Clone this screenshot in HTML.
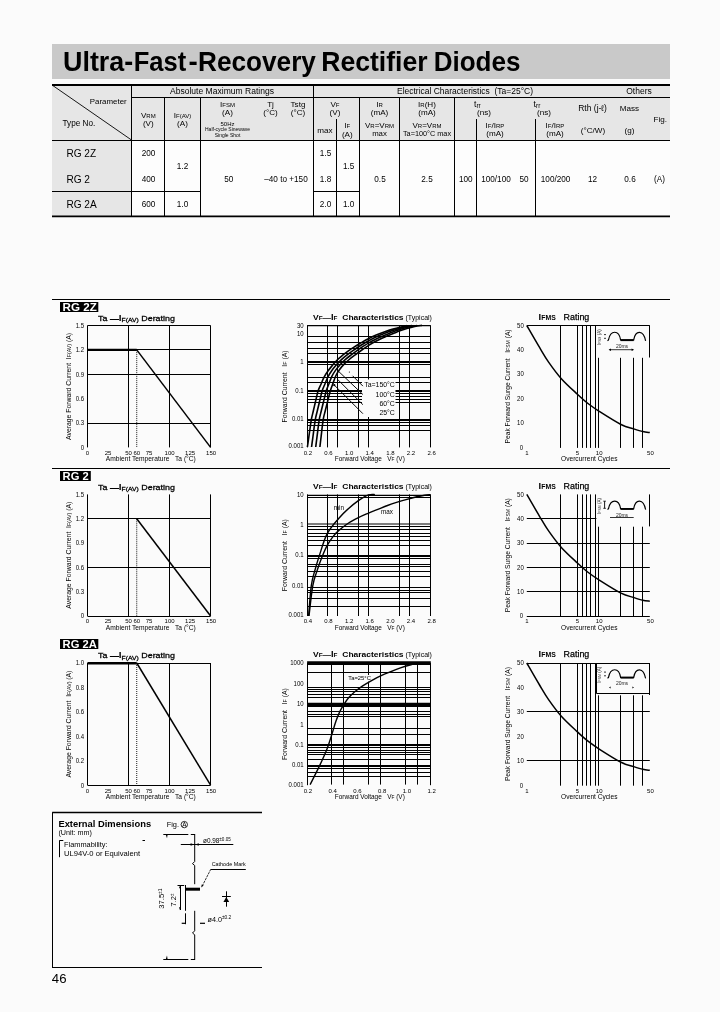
<!DOCTYPE html>
<html><head><meta charset="utf-8"><title>Ultra-Fast-Recovery Rectifier Diodes</title>
<style>html,body{margin:0;padding:0;background:#fbfbfb;}body{width:720px;height:1012px;overflow:hidden;font-family:"Liberation Sans",sans-serif;}svg{display:block;font-family:"Liberation Sans",sans-serif;}</style></head><body>
<svg style="will-change:transform;filter:grayscale(1)" width="720" height="1012" viewBox="0 0 720 1012">
<rect x="0" y="0" width="720" height="1012" fill="#fbfbfb" />
<rect x="52" y="44" width="618" height="35" fill="#c9c9c9" />
<text x="63" y="71" font-size="27.8" text-anchor="start" font-weight="bold" fill="#000" textLength="70.2" lengthAdjust="spacingAndGlyphs" >Ultra-</text>
<text x="133.7" y="71" font-size="27.8" text-anchor="start" font-weight="bold" fill="#000" textLength="52.5" lengthAdjust="spacingAndGlyphs" >Fast</text>
<text x="188.5" y="71" font-size="27.8" text-anchor="start" font-weight="bold" fill="#000" >-</text>
<text x="198.1" y="71" font-size="27.8" text-anchor="start" font-weight="bold" fill="#000" textLength="117.8" lengthAdjust="spacingAndGlyphs" >Recovery</text>
<text x="321.2" y="71" font-size="27.8" text-anchor="start" font-weight="bold" fill="#000" textLength="106.4" lengthAdjust="spacingAndGlyphs" >Rectifier</text>
<text x="433.7" y="71" font-size="27.8" text-anchor="start" font-weight="bold" fill="#000" textLength="86.8" lengthAdjust="spacingAndGlyphs" >Diodes</text>
<rect x="52" y="85" width="618" height="55" fill="#e6e6e6" />
<rect x="52" y="140" width="79.5" height="76" fill="#e6e6e6" />
<rect x="131.5" y="140" width="538.5" height="76" fill="#fdfdfd" />
<line x1="52" y1="85" x2="670" y2="85" stroke="#000" stroke-width="2" />
<line x1="52" y1="216.3" x2="670" y2="216.3" stroke="#000" stroke-width="1.8" />
<line x1="131.5" y1="97.5" x2="670" y2="97.5" stroke="#000" stroke-width="1" />
<line x1="52" y1="140.5" x2="670" y2="140.5" stroke="#000" stroke-width="1" />
<line x1="52" y1="191.5" x2="200.5" y2="191.5" stroke="#000" stroke-width="1" />
<line x1="313" y1="191.5" x2="359.5" y2="191.5" stroke="#000" stroke-width="1" />
<line x1="131.5" y1="85" x2="131.5" y2="216" stroke="#000" stroke-width="1" />
<line x1="164.5" y1="97" x2="164.5" y2="216" stroke="#000" stroke-width="1" />
<line x1="200.5" y1="97" x2="200.5" y2="216" stroke="#000" stroke-width="1" />
<line x1="313.5" y1="85" x2="313.5" y2="216" stroke="#000" stroke-width="1" />
<line x1="359.5" y1="97" x2="359.5" y2="216" stroke="#000" stroke-width="1" />
<line x1="399.5" y1="97" x2="399.5" y2="216" stroke="#000" stroke-width="1" />
<line x1="454.5" y1="97" x2="454.5" y2="216" stroke="#000" stroke-width="1" />
<line x1="336.5" y1="119" x2="336.5" y2="216" stroke="#000" stroke-width="1" />
<line x1="476.5" y1="119" x2="476.5" y2="216" stroke="#000" stroke-width="1" />
<line x1="535.5" y1="119" x2="535.5" y2="216" stroke="#000" stroke-width="1" />
<line x1="52" y1="85" x2="131.5" y2="140" stroke="#000" stroke-width="0.9" />
<text x="222" y="93.6" font-size="8.3" text-anchor="middle" font-weight="normal" fill="#000" textLength="104" lengthAdjust="spacingAndGlyphs" >Absolute Maximum Ratings</text>
<text x="465" y="93.6" font-size="8.3" text-anchor="middle" font-weight="normal" fill="#000" textLength="136" lengthAdjust="spacingAndGlyphs" >Electrical Characteristics&#160;&#160;(Ta=25°C)</text>
<text x="639" y="94" font-size="8.5" text-anchor="middle" font-weight="normal" fill="#000" >Others</text>
<text x="126.7" y="103.8" font-size="7.9" text-anchor="end" font-weight="normal" fill="#000" >Parameter</text>
<text x="62.5" y="126.3" font-size="8.2" text-anchor="start" font-weight="normal" fill="#000" >Type No.</text>
<text x="148.3" y="117.5" font-size="8.1" text-anchor="middle" font-weight="normal" fill="#000" >V<tspan font-size="6">RM</tspan></text>
<text x="148.3" y="126.3" font-size="8.1" text-anchor="middle" font-weight="normal" fill="#000" >(V)</text>
<text x="182.5" y="117.5" font-size="8.1" text-anchor="middle" font-weight="normal" fill="#000" >I<tspan font-size="6">F(AV)</tspan></text>
<text x="182.5" y="126.3" font-size="8.1" text-anchor="middle" font-weight="normal" fill="#000" >(A)</text>
<text x="227.5" y="106.8" font-size="8.1" text-anchor="middle" font-weight="normal" fill="#000" >I<tspan font-size="6">FSM</tspan></text>
<text x="227.5" y="114.8" font-size="8.1" text-anchor="middle" font-weight="normal" fill="#000" >(A)</text>
<text x="227.5" y="125.8" font-size="6" text-anchor="middle" font-weight="normal" fill="#000" >50Hz</text>
<text x="227.5" y="131.3" font-size="5" text-anchor="middle" font-weight="normal" fill="#000" >Half-cycle Sinewave</text>
<text x="227.5" y="137" font-size="5" text-anchor="middle" font-weight="normal" fill="#000" >Single Shot</text>
<text x="270.5" y="106.8" font-size="8.1" text-anchor="middle" font-weight="normal" fill="#000" >Tj</text>
<text x="270.5" y="114.8" font-size="8.1" text-anchor="middle" font-weight="normal" fill="#000" >(°C)</text>
<text x="298" y="106.8" font-size="8.1" text-anchor="middle" font-weight="normal" fill="#000" >Tstg</text>
<text x="298" y="114.8" font-size="8.1" text-anchor="middle" font-weight="normal" fill="#000" >(°C)</text>
<text x="335" y="106.8" font-size="8.1" text-anchor="middle" font-weight="normal" fill="#000" >V<tspan font-size="6">F</tspan></text>
<text x="335" y="115" font-size="8.1" text-anchor="middle" font-weight="normal" fill="#000" >(V)</text>
<text x="325" y="132.5" font-size="8.1" text-anchor="middle" font-weight="normal" fill="#000" >max</text>
<text x="347.3" y="128" font-size="8.1" text-anchor="middle" font-weight="normal" fill="#000" >I<tspan font-size="6">F</tspan></text>
<text x="347.3" y="137" font-size="8.1" text-anchor="middle" font-weight="normal" fill="#000" >(A)</text>
<text x="379.5" y="106.8" font-size="8.1" text-anchor="middle" font-weight="normal" fill="#000" >I<tspan font-size="6">R</tspan></text>
<text x="379.5" y="115" font-size="8.1" text-anchor="middle" font-weight="normal" fill="#000" >(mA)</text>
<text x="379.5" y="127.5" font-size="8" text-anchor="middle" font-weight="normal" fill="#000" >V<tspan font-size="6">R</tspan>=V<tspan font-size="6">RM</tspan></text>
<text x="379.5" y="136.2" font-size="7.8" text-anchor="middle" font-weight="normal" fill="#000" >max</text>
<text x="427" y="106.8" font-size="8.1" text-anchor="middle" font-weight="normal" fill="#000" >I<tspan font-size="6">R</tspan>(H)</text>
<text x="427" y="115" font-size="8.1" text-anchor="middle" font-weight="normal" fill="#000" >(mA)</text>
<text x="427" y="127.5" font-size="8" text-anchor="middle" font-weight="normal" fill="#000" >V<tspan font-size="6">R</tspan>=V<tspan font-size="6">RM</tspan></text>
<text x="427" y="136.2" font-size="7.3" text-anchor="middle" font-weight="normal" fill="#000" >Ta=100°C max</text>
<text x="474" y="106.6" font-size="8.6" text-anchor="start" font-weight="normal" fill="#000" >t<tspan font-size="6.5" dy="1.3">rr</tspan></text>
<text x="484" y="115" font-size="8.1" text-anchor="middle" font-weight="normal" fill="#000" >(ns)</text>
<text x="495" y="127.5" font-size="8.1" text-anchor="middle" font-weight="normal" fill="#000" >I<tspan font-size="6">F</tspan>/I<tspan font-size="6">RP</tspan></text>
<text x="495" y="136" font-size="8.1" text-anchor="middle" font-weight="normal" fill="#000" >(mA)</text>
<text x="533.6" y="106.6" font-size="8.6" text-anchor="start" font-weight="normal" fill="#000" >t<tspan font-size="6.5" dy="1.3">rr</tspan></text>
<text x="544" y="115" font-size="8.1" text-anchor="middle" font-weight="normal" fill="#000" >(ns)</text>
<text x="555" y="127.5" font-size="8.1" text-anchor="middle" font-weight="normal" fill="#000" >I<tspan font-size="6">F</tspan>/I<tspan font-size="6">RP</tspan></text>
<text x="555" y="136" font-size="8.1" text-anchor="middle" font-weight="normal" fill="#000" >(mA)</text>
<text x="592.6" y="111" font-size="8.5" text-anchor="middle" font-weight="normal" fill="#000" >Rth (j-ℓ)</text>
<text x="593" y="133" font-size="8.1" text-anchor="middle" font-weight="normal" fill="#000" >(°C/W)</text>
<text x="629.5" y="111" font-size="8.1" text-anchor="middle" font-weight="normal" fill="#000" >Mass</text>
<text x="629.5" y="133" font-size="8.1" text-anchor="middle" font-weight="normal" fill="#000" >(g)</text>
<text x="660.2" y="122" font-size="8.1" text-anchor="middle" font-weight="normal" fill="#000" >Fig.</text>
<text x="66.4" y="157" font-size="10.1" text-anchor="start" font-weight="normal" fill="#000" >RG 2Z</text>
<text x="66.4" y="182.5" font-size="10.1" text-anchor="start" font-weight="normal" fill="#000" >RG 2</text>
<text x="66.4" y="207.5" font-size="10.1" text-anchor="start" font-weight="normal" fill="#000" >RG 2A</text>
<text x="148.5" y="156" font-size="8.2" text-anchor="middle" font-weight="normal" fill="#000" >200</text>
<text x="148.5" y="182" font-size="8.2" text-anchor="middle" font-weight="normal" fill="#000" >400</text>
<text x="148.5" y="207" font-size="8.2" text-anchor="middle" font-weight="normal" fill="#000" >600</text>
<text x="182.5" y="168.8" font-size="8.2" text-anchor="middle" font-weight="normal" fill="#000" >1.2</text>
<text x="182.5" y="207" font-size="8.2" text-anchor="middle" font-weight="normal" fill="#000" >1.0</text>
<text x="228.7" y="182" font-size="8.2" text-anchor="middle" font-weight="normal" fill="#000" >50</text>
<text x="286" y="182" font-size="8.2" text-anchor="middle" font-weight="normal" fill="#000" >–40 to +150</text>
<text x="325.5" y="156" font-size="8.2" text-anchor="middle" font-weight="normal" fill="#000" >1.5</text>
<text x="325.5" y="182" font-size="8.2" text-anchor="middle" font-weight="normal" fill="#000" >1.8</text>
<text x="325.5" y="207" font-size="8.2" text-anchor="middle" font-weight="normal" fill="#000" >2.0</text>
<text x="348.7" y="168.8" font-size="8.2" text-anchor="middle" font-weight="normal" fill="#000" >1.5</text>
<text x="348.7" y="207" font-size="8.2" text-anchor="middle" font-weight="normal" fill="#000" >1.0</text>
<text x="380" y="182" font-size="8.2" text-anchor="middle" font-weight="normal" fill="#000" >0.5</text>
<text x="427" y="182" font-size="8.2" text-anchor="middle" font-weight="normal" fill="#000" >2.5</text>
<text x="465.8" y="182" font-size="8.2" text-anchor="middle" font-weight="normal" fill="#000" >100</text>
<text x="496" y="182" font-size="8.2" text-anchor="middle" font-weight="normal" fill="#000" >100/100</text>
<text x="524" y="182" font-size="8.2" text-anchor="middle" font-weight="normal" fill="#000" >50</text>
<text x="555.6" y="182" font-size="8.2" text-anchor="middle" font-weight="normal" fill="#000" >100/200</text>
<text x="592.5" y="182" font-size="8.2" text-anchor="middle" font-weight="normal" fill="#000" >12</text>
<text x="630" y="182" font-size="8.2" text-anchor="middle" font-weight="normal" fill="#000" >0.6</text>
<text x="659.5" y="182" font-size="8.2" text-anchor="middle" font-weight="normal" fill="#000" >(A)</text>
<text x="51.8" y="982.5" font-size="13.2" text-anchor="start" font-weight="normal" fill="#000" >46</text>
<line x1="52" y1="299.5" x2="670" y2="299.5" stroke="#000" stroke-width="1" />
<rect x="60" y="302" width="38.3" height="10" fill="#000" />
<text x="62.6" y="310.9" font-size="10.7" text-anchor="start" font-weight="bold" fill="#fff" textLength="34.2" lengthAdjust="spacingAndGlyphs" >RG 2Z</text>
<text transform="translate(98.1,320.6) scale(1,0.9)" font-size="8.4" stroke="#000" stroke-width="0.28" textLength="76.8" lengthAdjust="spacingAndGlyphs">Ta —<tspan font-size="9.4" font-weight="bold" stroke="none">I</tspan><tspan font-size="6.4" dy="1.7">F(AV)</tspan><tspan dy="-1.7"> Derating</tspan></text>
<line x1="87.5" y1="325.5" x2="87.5" y2="447.4" stroke="#000" stroke-width="1" />
<line x1="210.5" y1="325.5" x2="210.5" y2="447.4" stroke="#000" stroke-width="1" />
<line x1="128.5" y1="325.5" x2="128.5" y2="447.4" stroke="#000" stroke-width="1" />
<line x1="169.5" y1="325.5" x2="169.5" y2="447.4" stroke="#000" stroke-width="1" />
<line x1="87.5" y1="325.5" x2="210.6" y2="325.5" stroke="#000" stroke-width="1" />
<line x1="87.5" y1="349.5" x2="210.6" y2="349.5" stroke="#000" stroke-width="1" />
<line x1="87.5" y1="374.5" x2="210.6" y2="374.5" stroke="#000" stroke-width="1" />
<line x1="87.5" y1="423.5" x2="210.6" y2="423.5" stroke="#000" stroke-width="1" />
<line x1="136.74" y1="349.88" x2="136.74" y2="447.4" stroke="#000" stroke-width="0.9" stroke-dasharray="1 1"/>
<line x1="87.5" y1="349.88" x2="136.74" y2="349.88" stroke="#000" stroke-width="2.2" />
<line x1="136.74" y1="349.88" x2="210.6" y2="447.4" stroke="#000" stroke-width="1.5" />
<text x="84.1" y="327.8" font-size="7.0" text-anchor="end" font-weight="normal" fill="#000" textLength="8.37" lengthAdjust="spacingAndGlyphs" >1.5</text>
<text x="84.1" y="352.18" font-size="7.0" text-anchor="end" font-weight="normal" fill="#000" textLength="8.37" lengthAdjust="spacingAndGlyphs" >1.2</text>
<text x="84.1" y="376.56" font-size="7.0" text-anchor="end" font-weight="normal" fill="#000" textLength="8.37" lengthAdjust="spacingAndGlyphs" >0.9</text>
<text x="84.1" y="400.94" font-size="7.0" text-anchor="end" font-weight="normal" fill="#000" textLength="8.37" lengthAdjust="spacingAndGlyphs" >0.6</text>
<text x="84.1" y="425.32" font-size="7.0" text-anchor="end" font-weight="normal" fill="#000" textLength="8.37" lengthAdjust="spacingAndGlyphs" >0.3</text>
<text x="84.1" y="449.7" font-size="7.0" text-anchor="end" font-weight="normal" fill="#000" textLength="3.35" lengthAdjust="spacingAndGlyphs" >0</text>
<text transform="translate(87.5,454.7) scale(1,0.82)" font-size="7.0" text-anchor="middle" font-weight="normal" fill="#000" textLength="3.35" lengthAdjust="spacingAndGlyphs" >0</text>
<text transform="translate(108.01666666666667,454.7) scale(1,0.82)" font-size="7.0" text-anchor="middle" font-weight="normal" fill="#000" textLength="6.69" lengthAdjust="spacingAndGlyphs" >25</text>
<text transform="translate(128.53333333333333,454.7) scale(1,0.82)" font-size="7.0" text-anchor="middle" font-weight="normal" fill="#000" textLength="6.69" lengthAdjust="spacingAndGlyphs" >50</text>
<text transform="translate(136.74,454.7) scale(1,0.82)" font-size="7.0" text-anchor="middle" font-weight="normal" fill="#000" textLength="6.69" lengthAdjust="spacingAndGlyphs" >60</text>
<text transform="translate(149.05,454.7) scale(1,0.82)" font-size="7.0" text-anchor="middle" font-weight="normal" fill="#000" textLength="6.69" lengthAdjust="spacingAndGlyphs" >75</text>
<text transform="translate(169.56666666666666,454.7) scale(1,0.82)" font-size="7.0" text-anchor="middle" font-weight="normal" fill="#000" textLength="10.04" lengthAdjust="spacingAndGlyphs" >100</text>
<text transform="translate(190.08333333333331,454.7) scale(1,0.82)" font-size="7.0" text-anchor="middle" font-weight="normal" fill="#000" textLength="10.04" lengthAdjust="spacingAndGlyphs" >125</text>
<text transform="translate(211.1,454.7) scale(1,0.82)" font-size="7.0" text-anchor="middle" font-weight="normal" fill="#000" textLength="10.04" lengthAdjust="spacingAndGlyphs" >150</text>
<text transform="translate(150.8,461.29999999999995) scale(1,0.85)" font-size="7.4" text-anchor="middle" font-weight="normal" fill="#000" textLength="90" lengthAdjust="spacingAndGlyphs" >Ambient Temperature&#160;&#160;&#160;Ta (°C)</text>
<text transform="translate(71.2,386.45) rotate(-90)" font-size="7.2" text-anchor="middle" textLength="107" lengthAdjust="spacingAndGlyphs">Average Forward Current&#160;&#160;I<tspan font-size="5.5">F(AV)</tspan> (A)</text>
<text transform="translate(313,319.9) scale(1,0.94)" font-size="8.5" font-weight="bold">V<tspan font-size="6.4">F</tspan>—<tspan font-size="9.2">I</tspan><tspan font-size="6.4">F</tspan>&#160;&#160;Characteristics<tspan font-size="7" font-weight="normal"> (Typical)</tspan></text>
<line x1="307.5" y1="325.5" x2="307.5" y2="447.4" stroke="#000" stroke-width="1" />
<line x1="430.5" y1="325.5" x2="430.5" y2="447.4" stroke="#000" stroke-width="1" />
<line x1="307.1" y1="325.6" x2="430.8" y2="325.6" stroke="#000" stroke-width="1.1" />
<line x1="307.1" y1="336.5" x2="430.8" y2="336.5" stroke="#000" stroke-width="1" />
<line x1="307.1" y1="342.5" x2="430.8" y2="342.5" stroke="#000" stroke-width="1" />
<line x1="307.1" y1="348.5" x2="430.8" y2="348.5" stroke="#000" stroke-width="1" />
<line x1="307.1" y1="353.5" x2="430.8" y2="353.5" stroke="#000" stroke-width="1" />
<line x1="307.1" y1="362" x2="430.8" y2="362" stroke="#000" stroke-width="2" />
<line x1="307.1" y1="364.5" x2="430.8" y2="364.5" stroke="#000" stroke-width="1" />
<line x1="307.1" y1="377.5" x2="430.8" y2="377.5" stroke="#000" stroke-width="1" />
<line x1="307.1" y1="382.5" x2="430.8" y2="382.5" stroke="#000" stroke-width="1" />
<line x1="307.1" y1="391" x2="430.8" y2="391" stroke="#000" stroke-width="2" />
<line x1="307.1" y1="393.5" x2="430.8" y2="393.5" stroke="#000" stroke-width="1" />
<line x1="307.1" y1="396.5" x2="430.8" y2="396.5" stroke="#000" stroke-width="1" />
<line x1="307.1" y1="399.5" x2="430.8" y2="399.5" stroke="#000" stroke-width="1" />
<line x1="307.1" y1="402.5" x2="430.8" y2="402.5" stroke="#000" stroke-width="1" />
<line x1="307.1" y1="420" x2="430.8" y2="420" stroke="#000" stroke-width="2" />
<line x1="307.1" y1="422.5" x2="430.8" y2="422.5" stroke="#000" stroke-width="1" />
<line x1="307.1" y1="425.5" x2="430.8" y2="425.5" stroke="#000" stroke-width="1" />
<line x1="307.1" y1="430.5" x2="430.8" y2="430.5" stroke="#000" stroke-width="1" />
<line x1="327.5" y1="325.5" x2="327.5" y2="447.4" stroke="#000" stroke-width="1" />
<line x1="337.5" y1="325.5" x2="337.5" y2="447.4" stroke="#000" stroke-width="1" />
<line x1="358.5" y1="325.5" x2="358.5" y2="447.4" stroke="#000" stroke-width="1" />
<line x1="368.5" y1="325.5" x2="368.5" y2="447.4" stroke="#000" stroke-width="1" />
<line x1="399.5" y1="325.5" x2="399.5" y2="447.4" stroke="#000" stroke-width="1" />
<line x1="409.5" y1="325.5" x2="409.5" y2="447.4" stroke="#000" stroke-width="1" />
<rect x="362" y="379.5" width="33.5" height="37.5" fill="#fbfbfb" />
<path d="M307.40,447.00 C307.57,445.81 308.07,442.25 308.41,439.88 C308.75,437.50 309.08,435.13 309.42,432.75 C309.76,430.38 310.08,428.00 310.43,425.63 C310.78,423.26 311.07,420.87 311.53,418.52 C311.99,416.17 312.63,413.85 313.18,411.52 C313.73,409.18 314.27,406.85 314.82,404.52 C315.37,402.18 315.91,399.84 316.47,397.51 C317.03,395.18 317.43,392.80 318.20,390.54 C318.97,388.28 320.13,386.14 321.09,383.95 C322.05,381.75 322.86,379.46 323.97,377.35 C325.08,375.24 326.40,373.25 327.77,371.29 C329.14,369.34 330.67,367.47 332.20,365.63 C333.73,363.78 335.24,361.91 336.93,360.22 C338.62,358.53 340.49,357.01 342.35,355.49 C344.20,353.98 346.13,352.55 348.07,351.14 C350.02,349.74 351.99,348.37 354.01,347.08 C356.03,345.79 358.13,344.62 360.19,343.40 C362.25,342.17 364.29,340.89 366.38,339.74 C368.48,338.58 370.60,337.46 372.77,336.46 C374.94,335.46 377.19,334.59 379.43,333.73 C381.67,332.88 383.93,332.07 386.20,331.31 C388.47,330.54 390.76,329.82 393.05,329.14 C395.35,328.46 397.67,327.84 400.00,327.25 C402.32,326.66 405.83,325.88 407.00,325.60" fill="none" stroke="#000" stroke-width="1.6"/>
<path d="M311.57,447.00 C311.73,445.80 312.20,442.22 312.52,439.82 C312.84,437.43 313.16,435.04 313.48,432.65 C313.80,430.26 314.09,427.86 314.43,425.47 C314.77,423.08 315.06,420.69 315.52,418.32 C315.98,415.95 316.64,413.63 317.21,411.28 C317.77,408.93 318.33,406.59 318.89,404.24 C319.46,401.89 320.00,399.54 320.58,397.20 C321.16,394.86 321.62,392.48 322.38,390.20 C323.15,387.91 324.23,385.74 325.15,383.51 C326.07,381.28 326.83,378.96 327.92,376.82 C329.02,374.69 330.33,372.65 331.72,370.69 C333.10,368.73 334.67,366.87 336.26,365.06 C337.84,363.25 339.46,361.46 341.21,359.82 C342.97,358.17 344.87,356.67 346.76,355.18 C348.65,353.68 350.59,352.24 352.56,350.83 C354.52,349.43 356.51,348.06 358.54,346.76 C360.57,345.46 362.65,344.22 364.73,343.01 C366.82,341.80 368.92,340.61 371.05,339.50 C373.19,338.39 375.36,337.33 377.55,336.34 C379.75,335.36 382.00,334.46 384.24,333.57 C386.49,332.69 388.74,331.83 391.02,331.05 C393.31,330.26 395.61,329.55 397.93,328.87 C400.24,328.20 402.57,327.56 404.92,327.00 C407.27,326.45 410.82,325.78 412.00,325.53" fill="none" stroke="#000" stroke-width="1.6"/>
<path d="M315.73,447.00 C315.88,445.80 316.33,442.18 316.63,439.77 C316.94,437.36 317.24,434.95 317.54,432.54 C317.84,430.13 318.11,427.72 318.44,425.31 C318.77,422.91 319.04,420.50 319.51,418.12 C319.97,415.74 320.66,413.40 321.24,411.04 C321.81,408.68 322.39,406.32 322.97,403.96 C323.54,401.61 324.10,399.24 324.70,396.89 C325.30,394.54 325.81,392.16 326.57,389.85 C327.32,387.55 328.33,385.33 329.22,383.07 C330.10,380.81 330.80,378.45 331.87,376.29 C332.95,374.13 334.26,372.06 335.66,370.09 C337.07,368.13 338.68,366.27 340.31,364.49 C341.95,362.71 343.69,361.02 345.50,359.41 C347.31,357.80 349.26,356.34 351.18,354.86 C353.10,353.37 355.06,351.93 357.04,350.53 C359.02,349.12 361.03,347.76 363.07,346.44 C365.11,345.13 367.16,343.83 369.27,342.63 C371.38,341.43 373.55,340.33 375.73,339.26 C377.90,338.20 380.12,337.20 382.34,336.23 C384.56,335.25 386.81,334.32 389.06,333.41 C391.31,332.51 393.56,331.59 395.85,330.79 C398.14,329.98 400.47,329.28 402.80,328.60 C405.13,327.93 407.47,327.28 409.84,326.75 C412.21,326.23 415.81,325.68 417.00,325.47" fill="none" stroke="#000" stroke-width="1.6"/>
<path d="M319.90,447.00 C320.04,445.79 320.46,442.15 320.75,439.72 C321.03,437.29 321.31,434.87 321.59,432.44 C321.88,430.01 322.12,427.58 322.44,425.16 C322.76,422.74 323.02,420.31 323.50,417.91 C323.97,415.52 324.68,413.17 325.27,410.80 C325.86,408.43 326.45,406.06 327.04,403.69 C327.63,401.32 328.19,398.94 328.81,396.58 C329.43,394.21 330.00,391.84 330.75,389.51 C331.49,387.19 332.44,384.93 333.28,382.64 C334.13,380.34 334.77,377.95 335.82,375.76 C336.88,373.57 338.19,371.47 339.61,369.50 C341.04,367.52 342.68,365.68 344.37,363.93 C346.07,362.18 347.92,360.57 349.79,359.01 C351.66,357.44 353.64,356.00 355.60,354.54 C357.55,353.07 359.52,351.62 361.52,350.22 C363.52,348.82 365.55,347.46 367.60,346.13 C369.65,344.80 371.68,343.43 373.81,342.25 C375.95,341.06 378.18,340.05 380.40,339.03 C382.62,338.00 384.88,337.07 387.12,336.11 C389.37,335.14 391.62,334.18 393.87,333.25 C396.13,332.32 398.38,331.35 400.67,330.53 C402.97,329.71 405.32,329.01 407.67,328.34 C410.02,327.67 412.38,326.99 414.76,326.50 C417.15,326.02 420.79,325.58 422.00,325.40" fill="none" stroke="#000" stroke-width="1.6"/>
<line x1="352.6" y1="375.8" x2="362.9" y2="386.1" stroke="#000" stroke-width="0.95" />
<line x1="338.5" y1="371.3" x2="362.9" y2="394.5" stroke="#000" stroke-width="0.95" />
<line x1="337.2" y1="379" x2="362.9" y2="404.7" stroke="#000" stroke-width="0.95" />
<line x1="334" y1="384.8" x2="362.9" y2="413.7" stroke="#000" stroke-width="0.95" />
<circle cx="349.4" cy="372" r="0.6" fill="#000"/>
<circle cx="334.3" cy="385.2" r="1.1" fill="#000"/>
<text x="394.8" y="387" font-size="6.9" text-anchor="end" font-weight="normal" fill="#000" >Ta=150°C</text>
<text x="394.8" y="397" font-size="6.9" text-anchor="end" font-weight="normal" fill="#000" >100°C</text>
<text x="394.8" y="406.2" font-size="6.9" text-anchor="end" font-weight="normal" fill="#000" >60°C</text>
<text x="394.8" y="415" font-size="6.9" text-anchor="end" font-weight="normal" fill="#000" >25°C</text>
<text x="303.6" y="327.7" font-size="7.0" text-anchor="end" font-weight="normal" fill="#000" textLength="6.69" lengthAdjust="spacingAndGlyphs" >30</text>
<text x="303.6" y="335.7" font-size="7.0" text-anchor="end" font-weight="normal" fill="#000" textLength="6.69" lengthAdjust="spacingAndGlyphs" >10</text>
<text x="303.6" y="364.09999999999997" font-size="7.0" text-anchor="end" font-weight="normal" fill="#000" textLength="3.35" lengthAdjust="spacingAndGlyphs" >1</text>
<text x="303.6" y="392.8" font-size="7.0" text-anchor="end" font-weight="normal" fill="#000" textLength="8.37" lengthAdjust="spacingAndGlyphs" >0.1</text>
<text x="303.6" y="421.0" font-size="7.0" text-anchor="end" font-weight="normal" fill="#000" textLength="11.71" lengthAdjust="spacingAndGlyphs" >0.01</text>
<text x="303.6" y="448.2" font-size="7.0" text-anchor="end" font-weight="normal" fill="#000" textLength="15.06" lengthAdjust="spacingAndGlyphs" >0.001</text>
<text transform="translate(307.90000000000003,454.7) scale(1,0.82)" font-size="7.0" text-anchor="middle" font-weight="normal" fill="#000" textLength="8.37" lengthAdjust="spacingAndGlyphs" >0.2</text>
<text transform="translate(328.5166666666667,454.7) scale(1,0.82)" font-size="7.0" text-anchor="middle" font-weight="normal" fill="#000" textLength="8.37" lengthAdjust="spacingAndGlyphs" >0.6</text>
<text transform="translate(349.1333333333334,454.7) scale(1,0.82)" font-size="7.0" text-anchor="middle" font-weight="normal" fill="#000" textLength="8.37" lengthAdjust="spacingAndGlyphs" >1.0</text>
<text transform="translate(369.75,454.7) scale(1,0.82)" font-size="7.0" text-anchor="middle" font-weight="normal" fill="#000" textLength="8.37" lengthAdjust="spacingAndGlyphs" >1.4</text>
<text transform="translate(390.3666666666667,454.7) scale(1,0.82)" font-size="7.0" text-anchor="middle" font-weight="normal" fill="#000" textLength="8.37" lengthAdjust="spacingAndGlyphs" >1.8</text>
<text transform="translate(410.98333333333335,454.7) scale(1,0.82)" font-size="7.0" text-anchor="middle" font-weight="normal" fill="#000" textLength="8.37" lengthAdjust="spacingAndGlyphs" >2.2</text>
<text transform="translate(431.6,454.7) scale(1,0.82)" font-size="7.0" text-anchor="middle" font-weight="normal" fill="#000" textLength="8.37" lengthAdjust="spacingAndGlyphs" >2.6</text>
<text transform="translate(369.8,461.29999999999995) scale(1,0.85)" font-size="7.4" text-anchor="middle" font-weight="normal" fill="#000" textLength="70" lengthAdjust="spacingAndGlyphs" >Forward Voltage&#160;&#160;&#160;V<tspan font-size="5.5">F</tspan> (V)</text>
<text transform="translate(287,386.45) rotate(-90)" font-size="7.2" text-anchor="middle" textLength="72" lengthAdjust="spacingAndGlyphs">Forward Current&#160;&#160;&#160;I<tspan font-size="5.5">F</tspan> (A)</text>
<text x="538.6" y="319.9" font-size="9.4" font-weight="bold">I<tspan font-size="6.9">FMS</tspan></text>
<text x="563.6" y="319.9" font-size="8.9" stroke="#000" stroke-width="0.25">Rating</text>
<line x1="560.5" y1="325.5" x2="560.5" y2="447.9" stroke="#000" stroke-width="1" />
<line x1="577.5" y1="325.5" x2="577.5" y2="447.9" stroke="#000" stroke-width="1" />
<line x1="582.5" y1="325.5" x2="582.5" y2="447.9" stroke="#000" stroke-width="1" />
<line x1="586.5" y1="325.5" x2="586.5" y2="447.9" stroke="#000" stroke-width="1" />
<line x1="590.5" y1="325.5" x2="590.5" y2="447.9" stroke="#000" stroke-width="1" />
<line x1="595.5" y1="325.5" x2="595.5" y2="447.9" stroke="#000" stroke-width="1" />
<line x1="598.5" y1="325.5" x2="598.5" y2="447.9" stroke="#000" stroke-width="1" />
<line x1="620.5" y1="325.5" x2="620.5" y2="447.9" stroke="#000" stroke-width="1" />
<line x1="633.5" y1="325.5" x2="633.5" y2="447.9" stroke="#000" stroke-width="1" />
<line x1="642.5" y1="325.5" x2="642.5" y2="447.9" stroke="#000" stroke-width="1" />
<rect x="596.4" y="325.0" width="53.89999999999998" height="32.8" fill="#fbfbfb" />
<line x1="649.5" y1="325.5" x2="649.5" y2="357.5" stroke="#000" stroke-width="1" />
<line x1="526.8" y1="325.5" x2="649.8" y2="325.5" stroke="#000" stroke-width="1" />
<path d="M607.5,340.7 L608.5,339.9 C610.5,329.7 619,329.7 620.6,339.9 L633.7,339.9 C635.5,329.7 643.5,329.7 645.6,340.9" fill="none" stroke="#000" stroke-width="1.2"/>
<line x1="620.6" y1="340.2" x2="633.7" y2="340.2" stroke="#000" stroke-width="1.8" />
<line x1="604" y1="334.6" x2="606" y2="334.6" stroke="#000" stroke-width="0.8" />
<line x1="604" y1="338.3" x2="606" y2="338.3" stroke="#000" stroke-width="0.8" />
<text transform="translate(601,337.2) rotate(-90)" font-size="4.5" text-anchor="middle" fill="#333">I<tspan font-size="3.5">FSM</tspan> (A)</text>
<text x="622" y="347.8" font-size="5" text-anchor="middle" font-weight="normal" fill="#222" >20ms</text>
<line x1="609.5" y1="349.7" x2="633.2" y2="349.7" stroke="#000" stroke-width="0.8" />
<path d="M608.6,349.7 l2.4,-1.3 v2.6z M634,349.7 l-2.4,-1.3 v2.6z" fill="#000"/>
<path d="M526.80,325.50 C528.92,329.16 535.92,341.35 539.55,347.44 C543.18,353.54 544.96,356.87 548.59,362.07 C552.23,367.27 556.54,373.28 561.34,378.65 C566.14,384.01 572.96,390.11 577.40,394.25 C581.84,398.40 584.35,400.67 587.98,403.52 C591.61,406.36 593.70,407.82 599.20,411.32 C604.70,414.81 615.23,421.56 620.99,424.48 C626.75,427.41 630.11,427.69 633.74,428.87 C637.37,430.05 640.11,430.94 642.78,431.55 C645.46,432.16 648.63,432.37 649.80,432.53" fill="none" stroke="#000" stroke-width="1.5"/>
<text x="523.8" y="327.7" font-size="7.0" text-anchor="end" font-weight="normal" fill="#000" textLength="6.69" lengthAdjust="spacingAndGlyphs" >50</text>
<text x="523.8" y="352.08" font-size="7.0" text-anchor="end" font-weight="normal" fill="#000" textLength="6.69" lengthAdjust="spacingAndGlyphs" >40</text>
<text x="523.8" y="376.46" font-size="7.0" text-anchor="end" font-weight="normal" fill="#000" textLength="6.69" lengthAdjust="spacingAndGlyphs" >30</text>
<text x="523.8" y="400.84" font-size="7.0" text-anchor="end" font-weight="normal" fill="#000" textLength="6.69" lengthAdjust="spacingAndGlyphs" >20</text>
<text x="523.8" y="425.21999999999997" font-size="7.0" text-anchor="end" font-weight="normal" fill="#000" textLength="6.69" lengthAdjust="spacingAndGlyphs" >10</text>
<text x="523" y="449.79999999999995" font-size="7.0" text-anchor="end" font-weight="normal" fill="#000" textLength="3.35" lengthAdjust="spacingAndGlyphs" >0</text>
<text transform="translate(526.8,454.7) scale(1,0.82)" font-size="7.0" text-anchor="middle" font-weight="normal" fill="#000" textLength="3.35" lengthAdjust="spacingAndGlyphs" >1</text>
<text transform="translate(577.4031950616632,454.7) scale(1,0.82)" font-size="7.0" text-anchor="middle" font-weight="normal" fill="#000" textLength="3.35" lengthAdjust="spacingAndGlyphs" >5</text>
<text transform="translate(599.1968049383368,454.7) scale(1,0.82)" font-size="7.0" text-anchor="middle" font-weight="normal" fill="#000" textLength="6.69" lengthAdjust="spacingAndGlyphs" >10</text>
<text transform="translate(650.4,454.7) scale(1,0.82)" font-size="7.0" text-anchor="middle" font-weight="normal" fill="#000" textLength="6.69" lengthAdjust="spacingAndGlyphs" >50</text>
<text transform="translate(589.3,461.29999999999995) scale(1,0.85)" font-size="7.4" text-anchor="middle" font-weight="normal" fill="#000" textLength="56.5" lengthAdjust="spacingAndGlyphs" >Overcurrent Cycles</text>
<text transform="translate(510.2,386.45) rotate(-90)" font-size="7.2" text-anchor="middle" textLength="114" lengthAdjust="spacingAndGlyphs">Peak Forward Surge Current&#160;&#160;&#160;I<tspan font-size="5.5">FSM</tspan> (A)</text>
<line x1="52" y1="468.5" x2="670" y2="468.5" stroke="#000" stroke-width="1" />
<rect x="60" y="471" width="30.8" height="10" fill="#000" />
<text x="62.6" y="479.9" font-size="10.7" text-anchor="start" font-weight="bold" fill="#fff" textLength="26.1" lengthAdjust="spacingAndGlyphs" >RG 2</text>
<text transform="translate(98.1,489.5) scale(1,0.9)" font-size="8.4" stroke="#000" stroke-width="0.28" textLength="76.8" lengthAdjust="spacingAndGlyphs">Ta —<tspan font-size="9.4" font-weight="bold" stroke="none">I</tspan><tspan font-size="6.4" dy="1.7">F(AV)</tspan><tspan dy="-1.7"> Derating</tspan></text>
<line x1="87.5" y1="494.4" x2="87.5" y2="616.0" stroke="#000" stroke-width="1" />
<line x1="210.5" y1="494.4" x2="210.5" y2="616.0" stroke="#000" stroke-width="1" />
<line x1="128.5" y1="494.4" x2="128.5" y2="616.0" stroke="#000" stroke-width="1" />
<line x1="169.5" y1="494.4" x2="169.5" y2="616.0" stroke="#000" stroke-width="1" />
<line x1="87.5" y1="518.5" x2="210.6" y2="518.5" stroke="#000" stroke-width="1" />
<line x1="87.5" y1="567.5" x2="210.6" y2="567.5" stroke="#000" stroke-width="1" />
<line x1="87.5" y1="616.5" x2="210.6" y2="616.5" stroke="#000" stroke-width="1" />
<line x1="136.74" y1="518.72" x2="136.74" y2="616.0" stroke="#000" stroke-width="0.9" stroke-dasharray="1 1"/>
<line x1="136.74" y1="518.72" x2="210.6" y2="616.0" stroke="#000" stroke-width="1.5" />
<text x="84.1" y="496.7" font-size="7.0" text-anchor="end" font-weight="normal" fill="#000" textLength="8.37" lengthAdjust="spacingAndGlyphs" >1.5</text>
<text x="84.1" y="521.02" font-size="7.0" text-anchor="end" font-weight="normal" fill="#000" textLength="8.37" lengthAdjust="spacingAndGlyphs" >1.2</text>
<text x="84.1" y="545.3399999999999" font-size="7.0" text-anchor="end" font-weight="normal" fill="#000" textLength="8.37" lengthAdjust="spacingAndGlyphs" >0.9</text>
<text x="84.1" y="569.66" font-size="7.0" text-anchor="end" font-weight="normal" fill="#000" textLength="8.37" lengthAdjust="spacingAndGlyphs" >0.6</text>
<text x="84.1" y="593.9799999999999" font-size="7.0" text-anchor="end" font-weight="normal" fill="#000" textLength="8.37" lengthAdjust="spacingAndGlyphs" >0.3</text>
<text x="84.1" y="618.3" font-size="7.0" text-anchor="end" font-weight="normal" fill="#000" textLength="3.35" lengthAdjust="spacingAndGlyphs" >0</text>
<text transform="translate(87.5,623.3) scale(1,0.82)" font-size="7.0" text-anchor="middle" font-weight="normal" fill="#000" textLength="3.35" lengthAdjust="spacingAndGlyphs" >0</text>
<text transform="translate(108.01666666666667,623.3) scale(1,0.82)" font-size="7.0" text-anchor="middle" font-weight="normal" fill="#000" textLength="6.69" lengthAdjust="spacingAndGlyphs" >25</text>
<text transform="translate(128.53333333333333,623.3) scale(1,0.82)" font-size="7.0" text-anchor="middle" font-weight="normal" fill="#000" textLength="6.69" lengthAdjust="spacingAndGlyphs" >50</text>
<text transform="translate(136.74,623.3) scale(1,0.82)" font-size="7.0" text-anchor="middle" font-weight="normal" fill="#000" textLength="6.69" lengthAdjust="spacingAndGlyphs" >60</text>
<text transform="translate(149.05,623.3) scale(1,0.82)" font-size="7.0" text-anchor="middle" font-weight="normal" fill="#000" textLength="6.69" lengthAdjust="spacingAndGlyphs" >75</text>
<text transform="translate(169.56666666666666,623.3) scale(1,0.82)" font-size="7.0" text-anchor="middle" font-weight="normal" fill="#000" textLength="10.04" lengthAdjust="spacingAndGlyphs" >100</text>
<text transform="translate(190.08333333333331,623.3) scale(1,0.82)" font-size="7.0" text-anchor="middle" font-weight="normal" fill="#000" textLength="10.04" lengthAdjust="spacingAndGlyphs" >125</text>
<text transform="translate(211.1,623.3) scale(1,0.82)" font-size="7.0" text-anchor="middle" font-weight="normal" fill="#000" textLength="10.04" lengthAdjust="spacingAndGlyphs" >150</text>
<text transform="translate(150.8,629.9) scale(1,0.85)" font-size="7.4" text-anchor="middle" font-weight="normal" fill="#000" textLength="90" lengthAdjust="spacingAndGlyphs" >Ambient Temperature&#160;&#160;&#160;Ta (°C)</text>
<text transform="translate(71.2,555.2) rotate(-90)" font-size="7.2" text-anchor="middle" textLength="107" lengthAdjust="spacingAndGlyphs">Average Forward Current&#160;&#160;I<tspan font-size="5.5">F(AV)</tspan> (A)</text>
<text transform="translate(313,488.79999999999995) scale(1,0.94)" font-size="8.5" font-weight="bold">V<tspan font-size="6.4">F</tspan>—<tspan font-size="9.2">I</tspan><tspan font-size="6.4">F</tspan>&#160;&#160;Characteristics<tspan font-size="7" font-weight="normal"> (Typical)</tspan></text>
<line x1="307.5" y1="494.4" x2="307.5" y2="616.0" stroke="#000" stroke-width="1" />
<line x1="430.5" y1="494.4" x2="430.5" y2="616.0" stroke="#000" stroke-width="1" />
<line x1="307.1" y1="495.4" x2="430.8" y2="495.4" stroke="#000" stroke-width="1.1" />
<line x1="307.1" y1="497.5" x2="430.8" y2="497.5" stroke="#000" stroke-width="1" />
<line x1="307.1" y1="524" x2="430.8" y2="524" stroke="#000" stroke-width="1.1" />
<line x1="307.1" y1="526.5" x2="430.8" y2="526.5" stroke="#000" stroke-width="1" />
<line x1="307.1" y1="529.5" x2="430.8" y2="529.5" stroke="#000" stroke-width="1" />
<line x1="307.1" y1="533.5" x2="430.8" y2="533.5" stroke="#000" stroke-width="1" />
<line x1="307.1" y1="536.5" x2="430.8" y2="536.5" stroke="#000" stroke-width="1" />
<line x1="307.1" y1="540.5" x2="430.8" y2="540.5" stroke="#000" stroke-width="1" />
<line x1="307.1" y1="545.5" x2="430.8" y2="545.5" stroke="#000" stroke-width="1" />
<line x1="307.1" y1="556" x2="430.8" y2="556" stroke="#000" stroke-width="2" />
<line x1="307.1" y1="558.5" x2="430.8" y2="558.5" stroke="#000" stroke-width="1" />
<line x1="307.1" y1="564.5" x2="430.8" y2="564.5" stroke="#000" stroke-width="1" />
<line x1="307.1" y1="566.5" x2="430.8" y2="566.5" stroke="#000" stroke-width="1" />
<line x1="307.1" y1="571.5" x2="430.8" y2="571.5" stroke="#000" stroke-width="1" />
<line x1="307.1" y1="576.5" x2="430.8" y2="576.5" stroke="#000" stroke-width="1" />
<line x1="307.1" y1="587.5" x2="430.8" y2="587.5" stroke="#000" stroke-width="1" />
<line x1="307.1" y1="590.5" x2="430.8" y2="590.5" stroke="#000" stroke-width="1" />
<line x1="307.1" y1="592.5" x2="430.8" y2="592.5" stroke="#000" stroke-width="1" />
<line x1="307.1" y1="598.5" x2="430.8" y2="598.5" stroke="#000" stroke-width="1" />
<line x1="307.1" y1="606.5" x2="430.8" y2="606.5" stroke="#000" stroke-width="1" />
<line x1="327.5" y1="494.4" x2="327.5" y2="616.0" stroke="#000" stroke-width="1" />
<line x1="337.5" y1="494.4" x2="337.5" y2="616.0" stroke="#000" stroke-width="1" />
<line x1="358.5" y1="494.4" x2="358.5" y2="616.0" stroke="#000" stroke-width="1" />
<line x1="368.5" y1="494.4" x2="368.5" y2="616.0" stroke="#000" stroke-width="1" />
<line x1="399.5" y1="494.4" x2="399.5" y2="616.0" stroke="#000" stroke-width="1" />
<line x1="409.5" y1="494.4" x2="409.5" y2="616.0" stroke="#000" stroke-width="1" />
<path d="M308.60,616.00 C309.05,610.93 310.23,593.27 311.30,585.60 C312.37,577.93 313.63,575.08 315.00,570.00 C316.37,564.92 317.47,561.15 319.50,555.10 C321.53,549.05 323.97,539.85 327.20,533.70 C330.43,527.55 335.33,522.42 338.90,518.20 C342.47,513.98 345.35,511.33 348.60,508.40 C351.85,505.47 355.48,502.70 358.40,500.60 C361.32,498.50 364.08,496.80 366.10,495.80 C368.12,494.80 369.03,494.80 370.50,494.60 C371.97,494.40 374.17,494.60 374.90,494.60" fill="none" stroke="#000" stroke-width="1.4"/>
<path d="M309.00,616.00 C309.63,610.93 311.42,593.27 312.80,585.60 C314.18,577.93 315.70,574.92 317.30,570.00 C318.90,565.08 320.75,560.20 322.40,556.10 C324.05,552.00 325.43,548.65 327.20,545.40 C328.97,542.15 331.05,539.10 333.00,536.60 C334.95,534.10 336.30,532.67 338.90,530.40 C341.50,528.13 345.35,525.13 348.60,523.00 C351.85,520.87 355.15,519.22 358.40,517.60 C361.65,515.98 364.87,514.67 368.10,513.30 C371.33,511.93 374.57,510.70 377.80,509.40 C381.03,508.10 384.25,506.70 387.50,505.50 C390.75,504.30 394.05,503.23 397.30,502.20 C400.55,501.17 403.77,500.20 407.00,499.30 C410.23,498.40 413.78,497.48 416.70,496.80 C419.62,496.12 422.22,495.57 424.50,495.20 C426.78,494.83 429.42,494.70 430.40,494.60" fill="none" stroke="#000" stroke-width="1.4"/>
<text x="338.9" y="510.4" font-size="6.3" text-anchor="middle" font-weight="normal" fill="#000" >min</text>
<text x="387" y="513.9" font-size="6.3" text-anchor="middle" font-weight="normal" fill="#000" >max</text>
<text x="303.6" y="496.59999999999997" font-size="7.0" text-anchor="end" font-weight="normal" fill="#000" textLength="6.69" lengthAdjust="spacingAndGlyphs" >10</text>
<text x="303.6" y="527.0" font-size="7.0" text-anchor="end" font-weight="normal" fill="#000" textLength="3.35" lengthAdjust="spacingAndGlyphs" >1</text>
<text x="303.6" y="557.4000000000001" font-size="7.0" text-anchor="end" font-weight="normal" fill="#000" textLength="8.37" lengthAdjust="spacingAndGlyphs" >0.1</text>
<text x="303.6" y="587.8000000000001" font-size="7.0" text-anchor="end" font-weight="normal" fill="#000" textLength="11.71" lengthAdjust="spacingAndGlyphs" >0.01</text>
<text x="303.6" y="617.4000000000001" font-size="7.0" text-anchor="end" font-weight="normal" fill="#000" textLength="15.06" lengthAdjust="spacingAndGlyphs" >0.001</text>
<text transform="translate(307.90000000000003,623.3) scale(1,0.82)" font-size="7.0" text-anchor="middle" font-weight="normal" fill="#000" textLength="8.37" lengthAdjust="spacingAndGlyphs" >0.4</text>
<text transform="translate(328.5166666666667,623.3) scale(1,0.82)" font-size="7.0" text-anchor="middle" font-weight="normal" fill="#000" textLength="8.37" lengthAdjust="spacingAndGlyphs" >0.8</text>
<text transform="translate(349.1333333333334,623.3) scale(1,0.82)" font-size="7.0" text-anchor="middle" font-weight="normal" fill="#000" textLength="8.37" lengthAdjust="spacingAndGlyphs" >1.2</text>
<text transform="translate(369.75,623.3) scale(1,0.82)" font-size="7.0" text-anchor="middle" font-weight="normal" fill="#000" textLength="8.37" lengthAdjust="spacingAndGlyphs" >1.6</text>
<text transform="translate(390.3666666666667,623.3) scale(1,0.82)" font-size="7.0" text-anchor="middle" font-weight="normal" fill="#000" textLength="8.37" lengthAdjust="spacingAndGlyphs" >2.0</text>
<text transform="translate(410.98333333333335,623.3) scale(1,0.82)" font-size="7.0" text-anchor="middle" font-weight="normal" fill="#000" textLength="8.37" lengthAdjust="spacingAndGlyphs" >2.4</text>
<text transform="translate(431.6,623.3) scale(1,0.82)" font-size="7.0" text-anchor="middle" font-weight="normal" fill="#000" textLength="8.37" lengthAdjust="spacingAndGlyphs" >2.8</text>
<text transform="translate(369.8,629.9) scale(1,0.85)" font-size="7.4" text-anchor="middle" font-weight="normal" fill="#000" textLength="70" lengthAdjust="spacingAndGlyphs" >Forward Voltage&#160;&#160;&#160;V<tspan font-size="5.5">F</tspan> (V)</text>
<text transform="translate(287,555.2) rotate(-90)" font-size="7.2" text-anchor="middle" textLength="72" lengthAdjust="spacingAndGlyphs">Forward Current&#160;&#160;&#160;I<tspan font-size="5.5">F</tspan> (A)</text>
<text x="538.6" y="488.79999999999995" font-size="9.4" font-weight="bold">I<tspan font-size="6.9">FMS</tspan></text>
<text x="563.6" y="488.79999999999995" font-size="8.9" stroke="#000" stroke-width="0.25">Rating</text>
<line x1="560.5" y1="494.4" x2="560.5" y2="616.5" stroke="#000" stroke-width="1" />
<line x1="577.5" y1="494.4" x2="577.5" y2="616.5" stroke="#000" stroke-width="1" />
<line x1="582.5" y1="494.4" x2="582.5" y2="616.5" stroke="#000" stroke-width="1" />
<line x1="586.5" y1="494.4" x2="586.5" y2="616.5" stroke="#000" stroke-width="1" />
<line x1="590.5" y1="494.4" x2="590.5" y2="616.5" stroke="#000" stroke-width="1" />
<line x1="595.5" y1="494.4" x2="595.5" y2="616.5" stroke="#000" stroke-width="1" />
<line x1="598.5" y1="494.4" x2="598.5" y2="616.5" stroke="#000" stroke-width="1" />
<line x1="620.5" y1="494.4" x2="620.5" y2="616.5" stroke="#000" stroke-width="1" />
<line x1="633.5" y1="494.4" x2="633.5" y2="616.5" stroke="#000" stroke-width="1" />
<line x1="642.5" y1="494.4" x2="642.5" y2="616.5" stroke="#000" stroke-width="1" />
<line x1="526.8" y1="518.5" x2="649.8" y2="518.5" stroke="#000" stroke-width="1" />
<line x1="526.8" y1="543.5" x2="649.8" y2="543.5" stroke="#000" stroke-width="1" />
<line x1="526.8" y1="567.5" x2="649.8" y2="567.5" stroke="#000" stroke-width="1" />
<line x1="526.8" y1="591.5" x2="649.8" y2="591.5" stroke="#000" stroke-width="1" />
<line x1="526.8" y1="616.5" x2="649.8" y2="616.5" stroke="#000" stroke-width="1" />
<rect x="596.4" y="493.9" width="53.89999999999998" height="32.8" fill="#fbfbfb" />
<line x1="649.5" y1="494.4" x2="649.5" y2="526.4" stroke="#000" stroke-width="1" />
<path d="M607.5,509.5 L608.5,508.7 C610.5,498.5 619,498.5 620.6,508.7 L633.7,508.7 C635.5,498.5 643.5,498.5 645.6,509.7" fill="none" stroke="#000" stroke-width="1.2"/>
<line x1="620.6" y1="509.0" x2="633.7" y2="509.0" stroke="#000" stroke-width="1.8" />
<line x1="604.6" y1="501.2" x2="604.6" y2="508.3" stroke="#000" stroke-width="0.9" />
<line x1="603.3" y1="501.2" x2="605.9" y2="501.2" stroke="#000" stroke-width="0.8" />
<line x1="603.3" y1="508.3" x2="605.9" y2="508.3" stroke="#000" stroke-width="0.8" />
<text transform="translate(601,506.0) rotate(-90)" font-size="4.5" text-anchor="middle" fill="#333">I<tspan font-size="3.5">FSM</tspan> (A)</text>
<text x="622" y="516.6" font-size="5" text-anchor="middle" font-weight="normal" fill="#222" >20ms</text>
<line x1="610" y1="517.5" x2="633.7" y2="517.5" stroke="#000" stroke-width="0.8" />
<path d="M526.80,494.40 C528.92,498.05 535.92,510.21 539.55,516.29 C543.18,522.37 544.96,525.69 548.59,530.88 C552.23,536.07 556.54,542.07 561.34,547.42 C566.14,552.77 572.96,558.85 577.40,562.98 C581.84,567.12 584.35,569.39 587.98,572.22 C591.61,575.06 593.70,576.52 599.20,580.01 C604.70,583.49 615.23,590.22 620.99,593.14 C626.75,596.06 630.11,596.34 633.74,597.52 C637.37,598.69 640.11,599.58 642.78,600.19 C645.46,600.80 648.63,601.00 649.80,601.16" fill="none" stroke="#000" stroke-width="1.5"/>
<text x="523.8" y="496.59999999999997" font-size="7.0" text-anchor="end" font-weight="normal" fill="#000" textLength="6.69" lengthAdjust="spacingAndGlyphs" >50</text>
<text x="523.8" y="520.9200000000001" font-size="7.0" text-anchor="end" font-weight="normal" fill="#000" textLength="6.69" lengthAdjust="spacingAndGlyphs" >40</text>
<text x="523.8" y="545.24" font-size="7.0" text-anchor="end" font-weight="normal" fill="#000" textLength="6.69" lengthAdjust="spacingAndGlyphs" >30</text>
<text x="523.8" y="569.5600000000001" font-size="7.0" text-anchor="end" font-weight="normal" fill="#000" textLength="6.69" lengthAdjust="spacingAndGlyphs" >20</text>
<text x="523.8" y="593.88" font-size="7.0" text-anchor="end" font-weight="normal" fill="#000" textLength="6.69" lengthAdjust="spacingAndGlyphs" >10</text>
<text x="523" y="618.4" font-size="7.0" text-anchor="end" font-weight="normal" fill="#000" textLength="3.35" lengthAdjust="spacingAndGlyphs" >0</text>
<text transform="translate(526.8,623.3) scale(1,0.82)" font-size="7.0" text-anchor="middle" font-weight="normal" fill="#000" textLength="3.35" lengthAdjust="spacingAndGlyphs" >1</text>
<text transform="translate(577.4031950616632,623.3) scale(1,0.82)" font-size="7.0" text-anchor="middle" font-weight="normal" fill="#000" textLength="3.35" lengthAdjust="spacingAndGlyphs" >5</text>
<text transform="translate(599.1968049383368,623.3) scale(1,0.82)" font-size="7.0" text-anchor="middle" font-weight="normal" fill="#000" textLength="6.69" lengthAdjust="spacingAndGlyphs" >10</text>
<text transform="translate(650.4,623.3) scale(1,0.82)" font-size="7.0" text-anchor="middle" font-weight="normal" fill="#000" textLength="6.69" lengthAdjust="spacingAndGlyphs" >50</text>
<text transform="translate(589.3,629.9) scale(1,0.85)" font-size="7.4" text-anchor="middle" font-weight="normal" fill="#000" textLength="56.5" lengthAdjust="spacingAndGlyphs" >Overcurrent Cycles</text>
<text transform="translate(510.2,555.2) rotate(-90)" font-size="7.2" text-anchor="middle" textLength="114" lengthAdjust="spacingAndGlyphs">Peak Forward Surge Current&#160;&#160;&#160;I<tspan font-size="5.5">FSM</tspan> (A)</text>
<rect x="60" y="639" width="38.3" height="10" fill="#000" />
<text x="62.6" y="647.9" font-size="10.7" text-anchor="start" font-weight="bold" fill="#fff" textLength="34.2" lengthAdjust="spacingAndGlyphs" >RG 2A</text>
<text transform="translate(98.1,658.1) scale(1,0.9)" font-size="8.4" stroke="#000" stroke-width="0.28" textLength="76.8" lengthAdjust="spacingAndGlyphs">Ta —<tspan font-size="9.4" font-weight="bold" stroke="none">I</tspan><tspan font-size="6.4" dy="1.7">F(AV)</tspan><tspan dy="-1.7"> Derating</tspan></text>
<line x1="87.5" y1="663.0" x2="87.5" y2="785.2" stroke="#000" stroke-width="1" />
<line x1="210.5" y1="663.0" x2="210.5" y2="785.2" stroke="#000" stroke-width="1" />
<line x1="128.5" y1="663.0" x2="128.5" y2="785.2" stroke="#000" stroke-width="1" />
<line x1="169.5" y1="663.0" x2="169.5" y2="785.2" stroke="#000" stroke-width="1" />
<line x1="87.5" y1="663.5" x2="210.6" y2="663.5" stroke="#000" stroke-width="1" />
<line x1="87.5" y1="785.5" x2="210.6" y2="785.5" stroke="#000" stroke-width="1" />
<line x1="136.74" y1="663.0" x2="136.74" y2="785.2" stroke="#000" stroke-width="0.9" stroke-dasharray="1 1"/>
<line x1="87.5" y1="663.3" x2="136.74" y2="663.3" stroke="#000" stroke-width="2.4" />
<line x1="136.74" y1="663.0" x2="210.6" y2="785.2" stroke="#000" stroke-width="1.5" />
<text x="84.1" y="665.3" font-size="7.0" text-anchor="end" font-weight="normal" fill="#000" textLength="8.37" lengthAdjust="spacingAndGlyphs" >1.0</text>
<text x="84.1" y="689.74" font-size="7.0" text-anchor="end" font-weight="normal" fill="#000" textLength="8.37" lengthAdjust="spacingAndGlyphs" >0.8</text>
<text x="84.1" y="714.18" font-size="7.0" text-anchor="end" font-weight="normal" fill="#000" textLength="8.37" lengthAdjust="spacingAndGlyphs" >0.6</text>
<text x="84.1" y="738.62" font-size="7.0" text-anchor="end" font-weight="normal" fill="#000" textLength="8.37" lengthAdjust="spacingAndGlyphs" >0.4</text>
<text x="84.1" y="763.06" font-size="7.0" text-anchor="end" font-weight="normal" fill="#000" textLength="8.37" lengthAdjust="spacingAndGlyphs" >0.2</text>
<text x="84.1" y="787.5" font-size="7.0" text-anchor="end" font-weight="normal" fill="#000" textLength="3.35" lengthAdjust="spacingAndGlyphs" >0</text>
<text transform="translate(87.5,792.5) scale(1,0.82)" font-size="7.0" text-anchor="middle" font-weight="normal" fill="#000" textLength="3.35" lengthAdjust="spacingAndGlyphs" >0</text>
<text transform="translate(108.01666666666667,792.5) scale(1,0.82)" font-size="7.0" text-anchor="middle" font-weight="normal" fill="#000" textLength="6.69" lengthAdjust="spacingAndGlyphs" >25</text>
<text transform="translate(128.53333333333333,792.5) scale(1,0.82)" font-size="7.0" text-anchor="middle" font-weight="normal" fill="#000" textLength="6.69" lengthAdjust="spacingAndGlyphs" >50</text>
<text transform="translate(136.74,792.5) scale(1,0.82)" font-size="7.0" text-anchor="middle" font-weight="normal" fill="#000" textLength="6.69" lengthAdjust="spacingAndGlyphs" >60</text>
<text transform="translate(149.05,792.5) scale(1,0.82)" font-size="7.0" text-anchor="middle" font-weight="normal" fill="#000" textLength="6.69" lengthAdjust="spacingAndGlyphs" >75</text>
<text transform="translate(169.56666666666666,792.5) scale(1,0.82)" font-size="7.0" text-anchor="middle" font-weight="normal" fill="#000" textLength="10.04" lengthAdjust="spacingAndGlyphs" >100</text>
<text transform="translate(190.08333333333331,792.5) scale(1,0.82)" font-size="7.0" text-anchor="middle" font-weight="normal" fill="#000" textLength="10.04" lengthAdjust="spacingAndGlyphs" >125</text>
<text transform="translate(211.1,792.5) scale(1,0.82)" font-size="7.0" text-anchor="middle" font-weight="normal" fill="#000" textLength="10.04" lengthAdjust="spacingAndGlyphs" >150</text>
<text transform="translate(150.8,799.1) scale(1,0.85)" font-size="7.4" text-anchor="middle" font-weight="normal" fill="#000" textLength="90" lengthAdjust="spacingAndGlyphs" >Ambient Temperature&#160;&#160;&#160;Ta (°C)</text>
<text transform="translate(71.2,724.1) rotate(-90)" font-size="7.2" text-anchor="middle" textLength="107" lengthAdjust="spacingAndGlyphs">Average Forward Current&#160;&#160;I<tspan font-size="5.5">F(AV)</tspan> (A)</text>
<text transform="translate(313,657.4) scale(1,0.94)" font-size="8.5" font-weight="bold">V<tspan font-size="6.4">F</tspan>—<tspan font-size="9.2">I</tspan><tspan font-size="6.4">F</tspan>&#160;&#160;Characteristics<tspan font-size="7" font-weight="normal"> (Typical)</tspan></text>
<line x1="307.5" y1="663.0" x2="307.5" y2="785.2" stroke="#000" stroke-width="1" />
<line x1="430.5" y1="663.0" x2="430.5" y2="785.2" stroke="#000" stroke-width="1" />
<line x1="307.1" y1="663.2" x2="430.8" y2="663.2" stroke="#000" stroke-width="3.7" />
<line x1="307.1" y1="672.5" x2="430.8" y2="672.5" stroke="#000" stroke-width="1" />
<line x1="307.1" y1="687.5" x2="430.8" y2="687.5" stroke="#000" stroke-width="1" />
<line x1="307.1" y1="689.5" x2="430.8" y2="689.5" stroke="#000" stroke-width="1" />
<line x1="307.1" y1="691.5" x2="430.8" y2="691.5" stroke="#000" stroke-width="1" />
<line x1="307.1" y1="694.5" x2="430.8" y2="694.5" stroke="#000" stroke-width="1" />
<line x1="307.1" y1="697.5" x2="430.8" y2="697.5" stroke="#000" stroke-width="1" />
<line x1="307.1" y1="704.9" x2="430.8" y2="704.9" stroke="#000" stroke-width="4.2" />
<line x1="307.1" y1="711.5" x2="430.8" y2="711.5" stroke="#000" stroke-width="1" />
<line x1="307.1" y1="714.5" x2="430.8" y2="714.5" stroke="#000" stroke-width="1" />
<line x1="307.1" y1="716.5" x2="430.8" y2="716.5" stroke="#000" stroke-width="1" />
<line x1="307.1" y1="728.5" x2="430.8" y2="728.5" stroke="#000" stroke-width="1" />
<line x1="307.1" y1="734.5" x2="430.8" y2="734.5" stroke="#000" stroke-width="1" />
<line x1="307.1" y1="745" x2="430.8" y2="745" stroke="#000" stroke-width="2" />
<line x1="307.1" y1="747.5" x2="430.8" y2="747.5" stroke="#000" stroke-width="1" />
<line x1="307.1" y1="750.5" x2="430.8" y2="750.5" stroke="#000" stroke-width="1" />
<line x1="307.1" y1="752.5" x2="430.8" y2="752.5" stroke="#000" stroke-width="1" />
<line x1="307.1" y1="754.5" x2="430.8" y2="754.5" stroke="#000" stroke-width="1" />
<line x1="307.1" y1="759.5" x2="430.8" y2="759.5" stroke="#000" stroke-width="1" />
<line x1="307.1" y1="766" x2="430.8" y2="766" stroke="#000" stroke-width="2" />
<line x1="307.1" y1="768.5" x2="430.8" y2="768.5" stroke="#000" stroke-width="1" />
<line x1="307.1" y1="772.5" x2="430.8" y2="772.5" stroke="#000" stroke-width="1" />
<line x1="307.1" y1="776.5" x2="430.8" y2="776.5" stroke="#000" stroke-width="1" />
<line x1="331.5" y1="663.0" x2="331.5" y2="784.6" stroke="#000" stroke-width="1" />
<line x1="343.5" y1="663.0" x2="343.5" y2="784.6" stroke="#000" stroke-width="1" />
<line x1="368.5" y1="663.0" x2="368.5" y2="784.6" stroke="#000" stroke-width="1" />
<line x1="380.5" y1="663.0" x2="380.5" y2="784.6" stroke="#000" stroke-width="1" />
<line x1="405.5" y1="663.0" x2="405.5" y2="784.6" stroke="#000" stroke-width="1" />
<line x1="417.5" y1="663.0" x2="417.5" y2="784.6" stroke="#000" stroke-width="1" />
<rect x="347.5" y="675" width="24.5" height="6.6" fill="#fbfbfb" />
<path d="M310.10,784.60 C311.67,781.48 316.65,771.93 319.50,765.90 C322.35,759.87 325.17,753.58 327.20,748.40 C329.23,743.22 330.23,739.35 331.70,734.80 C333.17,730.25 334.63,725.00 336.00,721.10 C337.37,717.20 338.60,714.15 339.90,711.40 C341.20,708.65 342.35,706.87 343.80,704.60 C345.25,702.33 346.82,699.90 348.60,697.80 C350.38,695.70 352.22,693.95 354.50,692.00 C356.78,690.05 359.38,688.05 362.30,686.10 C365.22,684.15 368.77,682.08 372.00,680.30 C375.23,678.52 378.47,676.87 381.70,675.40 C384.93,673.93 388.15,672.80 391.40,671.50 C394.65,670.20 397.95,668.73 401.20,667.60 C404.45,666.47 408.32,665.40 410.90,664.70 C413.48,664.00 415.73,663.62 416.70,663.40" fill="none" stroke="#000" stroke-width="1.4"/>
<text x="359.6" y="680.3" font-size="6.2" text-anchor="middle" font-weight="normal" fill="#000" textLength="22.6" lengthAdjust="spacingAndGlyphs" >Ta=25°C</text>
<text x="303.6" y="665.2" font-size="7.0" text-anchor="end" font-weight="normal" fill="#000" textLength="13.39" lengthAdjust="spacingAndGlyphs" >1000</text>
<text x="303.6" y="686.1500000000001" font-size="7.0" text-anchor="end" font-weight="normal" fill="#000" textLength="10.04" lengthAdjust="spacingAndGlyphs" >100</text>
<text x="303.6" y="705.6000000000001" font-size="7.0" text-anchor="end" font-weight="normal" fill="#000" textLength="6.69" lengthAdjust="spacingAndGlyphs" >10</text>
<text x="303.6" y="726.6500000000001" font-size="7.0" text-anchor="end" font-weight="normal" fill="#000" textLength="3.35" lengthAdjust="spacingAndGlyphs" >1</text>
<text x="303.6" y="746.9000000000001" font-size="7.0" text-anchor="end" font-weight="normal" fill="#000" textLength="8.37" lengthAdjust="spacingAndGlyphs" >0.1</text>
<text x="303.6" y="767.1500000000001" font-size="7.0" text-anchor="end" font-weight="normal" fill="#000" textLength="11.71" lengthAdjust="spacingAndGlyphs" >0.01</text>
<text x="303.6" y="786.6000000000001" font-size="7.0" text-anchor="end" font-weight="normal" fill="#000" textLength="15.06" lengthAdjust="spacingAndGlyphs" >0.001</text>
<text transform="translate(307.90000000000003,792.5) scale(1,0.82)" font-size="7.0" text-anchor="middle" font-weight="normal" fill="#000" textLength="8.37" lengthAdjust="spacingAndGlyphs" >0.2</text>
<text transform="translate(332.64000000000004,792.5) scale(1,0.82)" font-size="7.0" text-anchor="middle" font-weight="normal" fill="#000" textLength="8.37" lengthAdjust="spacingAndGlyphs" >0.4</text>
<text transform="translate(357.38000000000005,792.5) scale(1,0.82)" font-size="7.0" text-anchor="middle" font-weight="normal" fill="#000" textLength="8.37" lengthAdjust="spacingAndGlyphs" >0.6</text>
<text transform="translate(382.12,792.5) scale(1,0.82)" font-size="7.0" text-anchor="middle" font-weight="normal" fill="#000" textLength="8.37" lengthAdjust="spacingAndGlyphs" >0.8</text>
<text transform="translate(406.86,792.5) scale(1,0.82)" font-size="7.0" text-anchor="middle" font-weight="normal" fill="#000" textLength="8.37" lengthAdjust="spacingAndGlyphs" >1.0</text>
<text transform="translate(431.6,792.5) scale(1,0.82)" font-size="7.0" text-anchor="middle" font-weight="normal" fill="#000" textLength="8.37" lengthAdjust="spacingAndGlyphs" >1.2</text>
<text transform="translate(369.8,799.1) scale(1,0.85)" font-size="7.4" text-anchor="middle" font-weight="normal" fill="#000" textLength="70" lengthAdjust="spacingAndGlyphs" >Forward Voltage&#160;&#160;&#160;V<tspan font-size="5.5">F</tspan> (V)</text>
<text transform="translate(287,724.1) rotate(-90)" font-size="7.2" text-anchor="middle" textLength="72" lengthAdjust="spacingAndGlyphs">Forward Current&#160;&#160;&#160;I<tspan font-size="5.5">F</tspan> (A)</text>
<text x="538.6" y="657.4" font-size="9.4" font-weight="bold">I<tspan font-size="6.9">FMS</tspan></text>
<text x="563.6" y="657.4" font-size="8.9" stroke="#000" stroke-width="0.25">Rating</text>
<line x1="560.5" y1="663.0" x2="560.5" y2="785.7" stroke="#000" stroke-width="1" />
<line x1="577.5" y1="663.0" x2="577.5" y2="785.7" stroke="#000" stroke-width="1" />
<line x1="582.5" y1="663.0" x2="582.5" y2="785.7" stroke="#000" stroke-width="1" />
<line x1="586.5" y1="663.0" x2="586.5" y2="785.7" stroke="#000" stroke-width="1" />
<line x1="590.5" y1="663.0" x2="590.5" y2="785.7" stroke="#000" stroke-width="1" />
<line x1="595.5" y1="663.0" x2="595.5" y2="785.7" stroke="#000" stroke-width="1" />
<line x1="598.5" y1="663.0" x2="598.5" y2="785.7" stroke="#000" stroke-width="1" />
<line x1="620.5" y1="663.0" x2="620.5" y2="785.7" stroke="#000" stroke-width="1" />
<line x1="633.5" y1="663.0" x2="633.5" y2="785.7" stroke="#000" stroke-width="1" />
<line x1="642.5" y1="663.0" x2="642.5" y2="785.7" stroke="#000" stroke-width="1" />
<line x1="526.8" y1="711.5" x2="649.8" y2="711.5" stroke="#000" stroke-width="1" />
<line x1="526.8" y1="760.5" x2="649.8" y2="760.5" stroke="#000" stroke-width="1" />
<rect x="596.4" y="662.5" width="53.89999999999998" height="32.8" fill="#fbfbfb" />
<line x1="649.5" y1="663.0" x2="649.5" y2="695.0" stroke="#000" stroke-width="1" />
<line x1="526.8" y1="663.5" x2="649.8" y2="663.5" stroke="#000" stroke-width="1" />
<line x1="596.5" y1="663.0" x2="596.5" y2="693.5" stroke="#000" stroke-width="1" />
<line x1="596.4" y1="693.5" x2="649.8" y2="693.5" stroke="#000" stroke-width="1" />
<path d="M607.5,678.1999999999999 L608.5,677.4 C610.5,667.1999999999999 619,667.1999999999999 620.6,677.4 L633.7,677.4 C635.5,667.1999999999999 643.5,667.1999999999999 645.6,678.4" fill="none" stroke="#000" stroke-width="1.2"/>
<line x1="620.6" y1="677.6999999999999" x2="633.7" y2="677.6999999999999" stroke="#000" stroke-width="1.8" />
<line x1="604" y1="672.1" x2="606" y2="672.1" stroke="#000" stroke-width="0.8" />
<line x1="604" y1="675.8" x2="606" y2="675.8" stroke="#000" stroke-width="0.8" />
<text transform="translate(601,674.7) rotate(-90)" font-size="4.5" text-anchor="middle" fill="#333">I<tspan font-size="3.5">FSM</tspan> (A)</text>
<text x="622" y="685.3" font-size="5" text-anchor="middle" font-weight="normal" fill="#222" >20ms</text>
<path d="M609,687.5 l1.6,-1 v2z M634,687.5 l-1.6,-1 v2z" fill="#000"/>
<path d="M526.80,663.00 C528.92,666.67 535.92,678.89 539.55,685.00 C543.18,691.11 544.96,694.45 548.59,699.66 C552.23,704.87 556.54,710.90 561.34,716.28 C566.14,721.66 572.96,727.77 577.40,731.92 C581.84,736.08 584.35,738.36 587.98,741.21 C591.61,744.06 593.70,745.53 599.20,749.03 C604.70,752.53 615.23,759.29 620.99,762.23 C626.75,765.16 630.11,765.44 633.74,766.63 C637.37,767.81 640.11,768.70 642.78,769.31 C645.46,769.93 648.63,770.13 649.80,770.29" fill="none" stroke="#000" stroke-width="1.5"/>
<text x="523.8" y="665.2" font-size="7.0" text-anchor="end" font-weight="normal" fill="#000" textLength="6.69" lengthAdjust="spacingAndGlyphs" >50</text>
<text x="523.8" y="689.6400000000001" font-size="7.0" text-anchor="end" font-weight="normal" fill="#000" textLength="6.69" lengthAdjust="spacingAndGlyphs" >40</text>
<text x="523.8" y="714.08" font-size="7.0" text-anchor="end" font-weight="normal" fill="#000" textLength="6.69" lengthAdjust="spacingAndGlyphs" >30</text>
<text x="523.8" y="738.5200000000001" font-size="7.0" text-anchor="end" font-weight="normal" fill="#000" textLength="6.69" lengthAdjust="spacingAndGlyphs" >20</text>
<text x="523.8" y="762.96" font-size="7.0" text-anchor="end" font-weight="normal" fill="#000" textLength="6.69" lengthAdjust="spacingAndGlyphs" >10</text>
<text x="523" y="787.6" font-size="7.0" text-anchor="end" font-weight="normal" fill="#000" textLength="3.35" lengthAdjust="spacingAndGlyphs" >0</text>
<text transform="translate(526.8,792.5) scale(1,0.82)" font-size="7.0" text-anchor="middle" font-weight="normal" fill="#000" textLength="3.35" lengthAdjust="spacingAndGlyphs" >1</text>
<text transform="translate(577.4031950616632,792.5) scale(1,0.82)" font-size="7.0" text-anchor="middle" font-weight="normal" fill="#000" textLength="3.35" lengthAdjust="spacingAndGlyphs" >5</text>
<text transform="translate(599.1968049383368,792.5) scale(1,0.82)" font-size="7.0" text-anchor="middle" font-weight="normal" fill="#000" textLength="6.69" lengthAdjust="spacingAndGlyphs" >10</text>
<text transform="translate(650.4,792.5) scale(1,0.82)" font-size="7.0" text-anchor="middle" font-weight="normal" fill="#000" textLength="6.69" lengthAdjust="spacingAndGlyphs" >50</text>
<text transform="translate(589.3,799.1) scale(1,0.85)" font-size="7.4" text-anchor="middle" font-weight="normal" fill="#000" textLength="56.5" lengthAdjust="spacingAndGlyphs" >Overcurrent Cycles</text>
<text transform="translate(510.2,724.1) rotate(-90)" font-size="7.2" text-anchor="middle" textLength="114" lengthAdjust="spacingAndGlyphs">Peak Forward Surge Current&#160;&#160;&#160;I<tspan font-size="5.5">FSM</tspan> (A)</text>
<line x1="52.2" y1="812.6" x2="262" y2="812.6" stroke="#000" stroke-width="1.5" />
<line x1="52.5" y1="812.3" x2="52.5" y2="968" stroke="#000" stroke-width="1" />
<line x1="52.2" y1="967.5" x2="262" y2="967.5" stroke="#000" stroke-width="1.2" />
<text x="58.4" y="826.6" font-size="9.6" text-anchor="start" font-weight="bold" fill="#000" textLength="92.7" lengthAdjust="spacingAndGlyphs" >External Dimensions</text>
<text x="58.4" y="834.7" font-size="7.2" text-anchor="start" font-weight="normal" fill="#000" >(Unit: mm)</text>
<line x1="59.5" y1="840.6" x2="59.5" y2="857.2" stroke="#000" stroke-width="1" />
<line x1="59.3" y1="840.5" x2="63.3" y2="840.5" stroke="#000" stroke-width="1" />
<text x="64" y="847.3" font-size="7.6" text-anchor="start" font-weight="normal" fill="#000" textLength="43.5" lengthAdjust="spacingAndGlyphs" >Flammability:</text>
<text x="64" y="855.8" font-size="7.6" text-anchor="start" font-weight="normal" fill="#000" textLength="76" lengthAdjust="spacingAndGlyphs" >UL94V-0 or Equivalent</text>
<line x1="142.5" y1="840.5" x2="145" y2="840.5" stroke="#000" stroke-width="1" />
<text x="166.7" y="827.2" font-size="7.4" text-anchor="start" font-weight="normal" fill="#000" >Fig.</text>
<circle cx="184.3" cy="824.6" r="3.2" fill="none" stroke="#000" stroke-width="0.8"/>
<text x="184.3" y="826.9" font-size="6.3" text-anchor="middle" font-weight="normal" fill="#000" >A</text>
<line x1="163.3" y1="834.5" x2="188.3" y2="834.5" stroke="#000" stroke-width="1" />
<path d="M165.8,834.7 h1.8 l-0.6,3.6z" fill="#000"/>
<line x1="190.8" y1="834.5" x2="195.1" y2="834.5" stroke="#000" stroke-width="1" />
<path d="M194.7,834.3 V861.5 l-2.2,2.2 l2.2,1.8 V884.2" fill="none" stroke="#000" stroke-width="1"/>
<line x1="180.8" y1="844.5" x2="233.3" y2="844.5" stroke="#000" stroke-width="1" />
<path d="M194.2,844.5 l-3.6,-1.3 v2.6z M195.2,844.5 l3.6,-1.3 v2.6z" fill="#000"/>
<text x="203" y="842.5" font-size="6.4" text-anchor="start" font-weight="normal" fill="#000" >ø0.98<tspan font-size="4.6" dy="-2">±0.05</tspan></text>
<text x="211.7" y="866.3" font-size="5.2" text-anchor="start" font-weight="normal" fill="#000" textLength="34" lengthAdjust="spacingAndGlyphs" >Cathode Mark</text>
<line x1="210.8" y1="869.5" x2="245.8" y2="869.5" stroke="#000" stroke-width="1" />
<line x1="210.8" y1="869.2" x2="202.5" y2="885.5" stroke="#000" stroke-width="0.8" stroke-dasharray="2.5 0.8"/>
<path d="M201.2,887.6 l0.5,-3 l2,1z" fill="#000"/>
<line x1="185" y1="889.2" x2="200" y2="889.2" stroke="#000" stroke-width="3" />
<line x1="185.5" y1="885" x2="185.5" y2="910.8" stroke="#000" stroke-width="1" />
<path d="M194.7,910.8 V930.8 l-2.2,2.2 l2.2,1.8 V959.5" fill="none" stroke="#000" stroke-width="1"/>
<line x1="163.3" y1="959.5" x2="188.3" y2="959.5" stroke="#000" stroke-width="1" />
<path d="M165.8,959.2 h1.8 l-0.6,-3.6z" fill="#000"/>
<line x1="190.8" y1="959.5" x2="195.1" y2="959.5" stroke="#000" stroke-width="1" />
<line x1="180.5" y1="885" x2="180.5" y2="910" stroke="#000" stroke-width="1" />
<line x1="177.5" y1="885.5" x2="184.2" y2="885.5" stroke="#000" stroke-width="1" />
<path d="M180,885.3 l-1,3 h2z M180,910.3 l-1,-3 h2z" fill="#000"/>
<text transform="translate(176.3,900) rotate(-90)" font-size="7.4" text-anchor="middle">7.2<tspan font-size="5" dy="-2">±</tspan></text>
<text transform="translate(164.3,898.5) rotate(-90)" font-size="7.6" text-anchor="middle">37.5<tspan font-size="5" dy="-2.5">±1</tspan></text>
<line x1="185.5" y1="913.3" x2="185.5" y2="924.2" stroke="#000" stroke-width="1" />
<line x1="181.7" y1="923.3" x2="185" y2="923.3" stroke="#000" stroke-width="1.2" />
<line x1="200" y1="923.3" x2="205" y2="923.3" stroke="#000" stroke-width="1.2" />
<text x="207.5" y="921.8" font-size="7.2" text-anchor="start" font-weight="normal" fill="#000" >ø4.0<tspan font-size="4.8" dy="-2.4">±0.2</tspan></text>
<line x1="226.5" y1="891.3" x2="226.5" y2="906.7" stroke="#000" stroke-width="1" />
<line x1="222" y1="896.5" x2="230.8" y2="896.5" stroke="#000" stroke-width="1" />
<path d="M226.3,897 L229.2,901.9 H223.4z" fill="#000"/>
</svg></body></html>
